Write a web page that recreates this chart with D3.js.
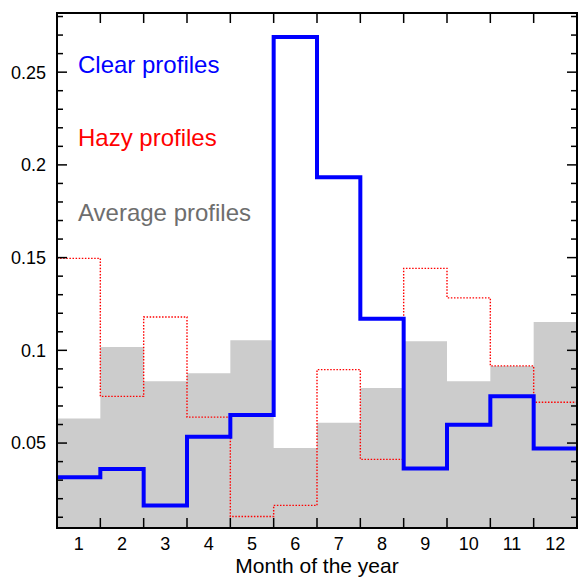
<!DOCTYPE html>
<html>
<head>
<meta charset="utf-8">
<script src="https://cdn.jsdelivr.net/npm/d3@7"></script>
<style>
  html, body { margin: 0; padding: 0; background: #fff; }
  svg { display: block; font-family: "Liberation Sans", Arial, Helvetica, sans-serif; }
</style>
</head>
<body>
<svg id="chart" width="578" height="577"></svg>
<script>
// ---- data ----
const months = [1, 2, 3, 4, 5, 6, 7, 8, 9, 10, 11, 12];
const clearValues   = [0.0316, 0.0360, 0.0164, 0.0534, 0.0651, 0.2689, 0.1933, 0.1170, 0.0363, 0.0599, 0.0752, 0.0471];
const hazyValues    = [0.1496, 0.0752, 0.1180, 0.0640, 0.0104, 0.0164, 0.0896, 0.0412, 0.1442, 0.1283, 0.0916, 0.0720];
const averageValues = [0.0633, 0.1018, 0.0833, 0.0876, 0.1055, 0.0473, 0.0610, 0.0797, 0.1049, 0.0833, 0.0916, 0.1153];
const yMajorTicks = [0.05, 0.1, 0.15, 0.2, 0.25];
const yTickLabels = ["0.05", "0.1", "0.15", "0.2", "0.25"];
const legendLabels = ["Clear profiles", "Hazy profiles", "Average profiles"];
const xTitle = "Month of the year";

// ---- layout ----
const L = 57, R = 577, T = 13, B = 528;
const svg = d3.select("#chart");
const x = d3.scaleLinear().domain([0.5, 12.5]).range([L, R]);
const y = d3.scaleLinear().domain([0.0042, 0.2819]).range([B, T]);

svg.append("defs").append("clipPath").attr("id", "plotclip")
  .append("rect").attr("x", L).attr("y", T).attr("width", R - L).attr("height", B - T);

const g = svg.append("g").attr("clip-path", "url(#plotclip)");

function stepPts(vals) {
  const pts = months.map((m, i) => [m - 0.5, vals[i]]);
  pts.push([12.5, vals[vals.length - 1]]);
  return pts;
}

// average: gray filled histogram
const area = d3.area()
  .x(d => x(d[0])).y0(B + 5).y1(d => y(d[1]))
  .curve(d3.curveStepAfter);
g.append("path").datum(stepPts(averageValues))
  .attr("d", area).attr("fill", "#cccccc");

const line = d3.line().x(d => x(d[0])).y(d => y(d[1])).curve(d3.curveStepAfter);

// hazy: red dotted
g.append("path").datum(stepPts(hazyValues))
  .attr("d", line).attr("fill", "none")
  .attr("stroke", "#ff0000").attr("stroke-width", 1.4)
  .attr("stroke-dasharray", "1.5,1.6");

// clear: thick blue
g.append("path").datum(stepPts(clearValues))
  .attr("d", line).attr("fill", "none")
  .attr("stroke", "#0000ff").attr("stroke-width", 4)
  .attr("stroke-linejoin", "miter").attr("stroke-linecap", "butt");

// ---- axes / frame ----
const ax = svg.append("g").attr("stroke", "#000");
// minor y ticks every 0.01
const minor = d3.range(1, 29).map(k => k / 100).filter(v => v >= 0.0042 && v <= 0.2819);
minor.forEach(v => {
  const isMajor = yMajorTicks.some(t => Math.abs(t - v) < 1e-9);
  const len = isMajor ? 10 : 6;
  ax.append("line").attr("x1", L).attr("x2", L + len).attr("y1", y(v)).attr("y2", y(v)).attr("stroke-width", 1.5);
  ax.append("line").attr("x1", R).attr("x2", R - len).attr("y1", y(v)).attr("y2", y(v)).attr("stroke-width", 1.5);
});
// x ticks at month boundaries (bottom and top)
d3.range(1, 12).map(k => k + 0.5).forEach(v => {
  ax.append("line").attr("x1", x(v)).attr("x2", x(v)).attr("y1", B).attr("y2", B - 10).attr("stroke-width", 1.5);
  ax.append("line").attr("x1", x(v)).attr("x2", x(v)).attr("y1", T).attr("y2", T + 10).attr("stroke-width", 1.5);
});
// frame
ax.append("rect").attr("x", L).attr("y", T).attr("width", R - L).attr("height", B - T)
  .attr("fill", "none").attr("stroke-width", 2);

// y tick labels
svg.append("g").selectAll("text").data(yMajorTicks).join("text")
  .attr("x", 46).attr("y", d => y(d) + 6.4)
  .attr("text-anchor", "end").attr("font-size", 18).attr("fill", "#000")
  .text((d, i) => yTickLabels[i]);

// x tick labels
svg.append("g").selectAll("text").data(months).join("text")
  .attr("x", d => x(d)).attr("y", 550)
  .attr("text-anchor", "middle").attr("font-size", 18).attr("fill", "#000")
  .text(d => String(d));

// x title
svg.append("text").attr("x", (L + R) / 2).attr("y", 573)
  .attr("text-anchor", "middle").attr("font-size", 21).attr("fill", "#000")
  .text(xTitle);

// legend
const legendColors = ["#0000ff", "#ff0000", "#6e6e6e"];
const legendY = [72.7, 146, 220.5];
svg.append("g").selectAll("text").data(legendLabels).join("text")
  .attr("x", 78).attr("y", (d, i) => legendY[i])
  .attr("font-size", 24).attr("fill", (d, i) => legendColors[i])
  .text(d => d);
</script>
</body>
</html>
